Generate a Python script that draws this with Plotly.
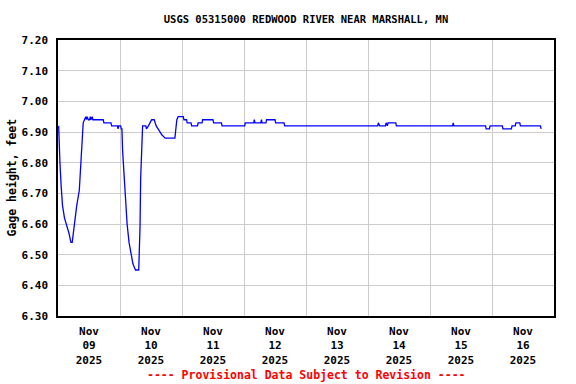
import plotly.graph_objects as go
import pandas as pd

# Gage height readings: (hours after 2025-11-09 00:00, feet)
hours = [0.25, 0.5, 0.75, 1.25, 1.75, 2.5, 3.25, 4.25, 4.75, 5.0, 5.5, 5.75, 6.5, 7.25, 8.25, 8.75,
         9.5, 9.75, 10.25, 10.75, 11.0, 11.25, 11.75, 12.25, 12.5, 12.75, 13.25, 13.5, 17.5, 17.75,
         20.5, 20.75, 23.0, 23.25, 23.5, 24.25, 24.5, 24.75, 25.0, 25.25, 25.75, 26.25, 26.75,
         27.5, 28.25, 29.0, 29.5, 30.0, 31.25, 31.5, 31.75, 32.0, 32.5, 32.75, 34.0, 34.25, 35.0,
         35.75, 36.25, 37.25, 37.5, 38.0, 38.75, 39.5, 40.25, 41.5, 45.25, 45.5, 45.75, 46.0,
         46.5, 48.5, 48.75, 49.75, 50.0, 51.5, 51.75, 54.0, 54.25, 55.75, 56.0, 60.0, 60.25,
         63.25, 63.5, 72.25, 72.5, 75.75, 76.0, 76.25, 78.5, 78.75, 79.0, 80.5, 80.75, 84.0,
         84.25, 87.5, 87.75, 123.75, 124.0, 124.5, 126.75, 127.0, 127.5, 127.75, 130.75, 131.0,
         152.75, 153.0, 153.25, 165.5, 165.75, 167.0, 167.25, 172.0, 172.25, 175.5, 175.75,
         177.0, 177.25, 178.75, 179.0, 186.75, 187.0]
gage_ft = [6.92, 6.85, 6.80, 6.72, 6.66, 6.62, 6.60, 6.57, 6.55, 6.54, 6.54, 6.56, 6.61, 6.66, 6.71, 6.78,
           6.90, 6.93, 6.94, 6.95, 6.94, 6.95, 6.94, 6.94, 6.95, 6.94, 6.95, 6.94, 6.94, 6.93,
           6.93, 6.92, 6.92, 6.91, 6.92, 6.92, 6.91, 6.91, 6.84, 6.80, 6.72, 6.65, 6.60,
           6.54, 6.50, 6.47, 6.46, 6.45, 6.45, 6.50, 6.59, 6.75, 6.88, 6.92, 6.92, 6.91, 6.92,
           6.93, 6.94, 6.94, 6.93, 6.92, 6.91, 6.90, 6.89, 6.88, 6.88, 6.90, 6.92, 6.94,
           6.95, 6.95, 6.94, 6.94, 6.93, 6.93, 6.92, 6.92, 6.93, 6.93, 6.94, 6.94, 6.93,
           6.93, 6.92, 6.92, 6.93, 6.93, 6.94, 6.93, 6.93, 6.94, 6.93, 6.93, 6.94, 6.94,
           6.93, 6.93, 6.92, 6.92, 6.93, 6.92, 6.92, 6.93, 6.92, 6.93, 6.93, 6.92,
           6.92, 6.93, 6.92, 6.92, 6.91, 6.91, 6.92, 6.92, 6.91, 6.91, 6.92,
           6.92, 6.93, 6.93, 6.92, 6.92, 6.91]

start = pd.Timestamp("2025-11-09 00:00")
times = [start + pd.Timedelta(hours=h) for h in hours]

day_labels = ["Nov<br>09<br>2025", "Nov<br>10<br>2025", "Nov<br>11<br>2025", "Nov<br>12<br>2025",
              "Nov<br>13<br>2025", "Nov<br>14<br>2025", "Nov<br>15<br>2025", "Nov<br>16<br>2025"]
day_noons = ["2025-11-09 12:00", "2025-11-10 12:00", "2025-11-11 12:00", "2025-11-12 12:00",
             "2025-11-13 12:00", "2025-11-14 12:00", "2025-11-15 12:00", "2025-11-16 12:00"]

FONT = "DejaVu Sans Mono"
PLOT_W = 576 - 58 - 22
PLOT_H = 384 - 40 - 68

fig = go.Figure()
fig.add_trace(go.Scatter(x=times, y=gage_ft, mode="lines", line=dict(color="#0000ff", width=1.3),
                         showlegend=False, hoverinfo="x+y"))

fig.update_layout(
    width=576, height=384,
    margin=dict(l=58, r=22, t=40, b=68, autoexpand=False),
    paper_bgcolor="white", plot_bgcolor="white",
    title=dict(text="USGS 05315000 REDWOOD RIVER NEAR MARSHALL, MN", x=0.5, xanchor="center",
               y=1 - 19 / 384, yanchor="middle", xref="paper",
               font=dict(family=FONT, size=10.5, color="black", weight="bold")),
    xaxis=dict(range=["2025-11-09 00:00", "2025-11-17 00:00"], tickvals=day_noons, ticktext=day_labels,
               showgrid=False, ticks="", showline=True, linecolor="black", linewidth=1.5, mirror=True,
               tickfont=dict(family=FONT, size=11, color="black", weight="bold"),
               minor=dict(dtick=86400000, tick0="2025-11-09", showgrid=True, gridcolor="#cccccc", gridwidth=1),
               zeroline=False, automargin=False, ticklabelstandoff=4),
    yaxis=dict(range=[6.30, 7.20], dtick=0.1, tick0=6.30, tickformat=".2f", showgrid=True, gridcolor="#cccccc",
               gridwidth=1, ticks="", showline=True, linecolor="black", linewidth=1.5, mirror=True,
               tickfont=dict(family=FONT, size=11, color="black", weight="bold"),
               zeroline=False, ticklabelstandoff=6, automargin=False),
    annotations=[
        dict(text="Gage height, feet", xref="paper", yref="paper", x=-(58 - 11.5) / PLOT_W, y=0.5,
             xanchor="center", yanchor="middle", textangle=-90, showarrow=False,
             font=dict(family=FONT, size=11.5, color="black", weight="bold")),
        dict(text="---- Provisional Data Subject to Revision ----", xref="paper", yref="paper",
             x=0.5, y=-(375 - 316) / PLOT_H, xanchor="center", yanchor="middle", showarrow=False,
             font=dict(family=FONT, size=11.5, color="red", weight="bold")),
    ],
)

fig.write_html("out.html", config={"displayModeBar": False},
               post_script="document.body.style.margin='0';")
